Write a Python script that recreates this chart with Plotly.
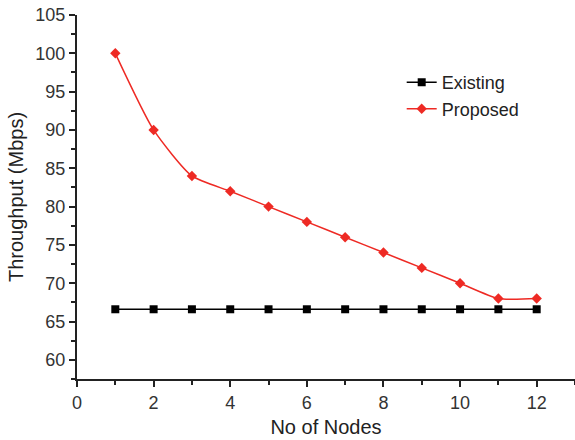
import plotly.graph_objects as go

nodes = [1, 2, 3, 4, 5, 6, 7, 8, 9, 10, 11, 12]
existing = [66.6] * 12
proposed = [100, 90, 84, 82, 80, 78, 76, 74, 72, 70, 68, 68]
x_ticks = [0, 2, 4, 6, 8, 10, 12]
y_ticks = [60, 65, 70, 75, 80, 85, 90, 95, 100, 105]

FONT = "Liberation Sans, Arial"

fig = go.Figure()
fig.add_trace(go.Scatter(
    x=nodes, y=existing, name="Existing", mode="lines+markers",
    line=dict(color="black", width=1.5),
    marker=dict(symbol="square", size=8, color="black"),
))
fig.add_trace(go.Scatter(
    x=nodes, y=proposed, name="Proposed", mode="lines+markers",
    line=dict(color="#ee2a24", width=1.5, shape="spline", smoothing=0.6),
    marker=dict(symbol="diamond", size=8, color="#ee2a24"),
))

axis_common = dict(
    showline=True, linecolor="#222", linewidth=2, showgrid=False, zeroline=False,
    ticks="outside", ticklen=6, tickwidth=1.5, tickcolor="#222",
    tickfont=dict(family=FONT, size=18, color="#333"),
    minor=dict(ticks="outside", ticklen=4, tickwidth=1.5, tickcolor="#222"),
)

fig.update_xaxes(
    range=[0, 13], tickvals=x_ticks, minor_dtick=1,
    title=dict(text="No of Nodes", font=dict(family=FONT, size=20, color="#222"), standoff=8),
    **axis_common,
)
fig.update_yaxes(
    range=[57.5, 105], tickvals=y_ticks, minor_dtick=2.5,
    title=dict(text="Throughput (Mbps)", font=dict(family=FONT, size=20, color="#222"), standoff=6),
    **axis_common,
)

fig.update_layout(
    width=575, height=440,
    margin=dict(l=77, r=0, t=15, b=61),
    plot_bgcolor="white", paper_bgcolor="white",
    legend=dict(
        x=0.652, y=0.865, xanchor="left", yanchor="top",
        font=dict(family=FONT, size=18, color="#222"),
        bgcolor="rgba(0,0,0,0)", itemwidth=30, tracegroupgap=0,
    ),
)

fig.write_html("out.html")
